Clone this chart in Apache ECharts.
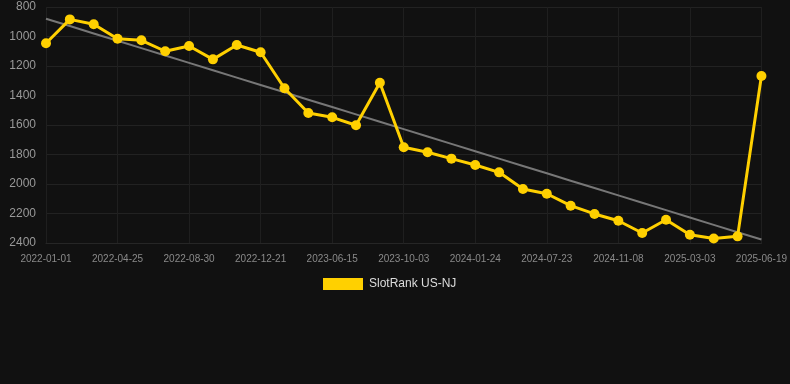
<!DOCTYPE html>
<html><head><meta charset="utf-8">
<script src="https://cdn.jsdelivr.net/npm/echarts@6/dist/echarts.min.js"></script>
<style>html,body{margin:0;padding:0;background:#111111;}#c{width:790px;height:384px;}</style>
</head><body><div id="c"></div>
<script>
var categories = ["2022-01-01","2022-02-08","2022-03-18","2022-04-25","2022-06-05","2022-07-18","2022-08-30","2022-10-08","2022-11-15","2022-12-21","2023-02-14","2023-04-20","2023-06-15","2023-07-20","2023-08-28","2023-10-03","2023-11-12","2023-12-20","2024-01-24","2024-03-20","2024-05-25","2024-07-23","2024-08-30","2024-10-02","2024-11-08","2024-12-15","2025-01-25","2025-03-03","2025-04-08","2025-05-14","2025-06-19"];
var rankValues = [1046,884,917,1015,1026,1100,1064,1155,1058,1107,1351,1519,1548,1602,1313,1751,1785,1828,1871,1921,2034,2066,2147,2203,2249,2332,2242,2344,2369,2355,1268];
var seriesName = "SlotRank US-NJ";

// linear regression trend from the data
var n = rankValues.length, sx=0, sy=0, sxy=0, sxx=0;
for (var i=0;i<n;i++){sx+=i;sy+=rankValues[i];sxy+=i*rankValues[i];sxx+=i*i;}
var slope=(n*sxy-sx*sy)/(n*sxx-sx*sx), icpt=(sy-slope*sx)/n;
var trend = rankValues.map(function(_,i){return +(icpt+slope*i).toFixed(1);});

var chart = echarts.init(document.getElementById('c'));
chart.setOption({
  backgroundColor:'#111111',
  animation:false,
  grid:{left:46,right:28,top:7,bottom:141},
  legend:{top:273,left:318,itemWidth:40,itemHeight:12,
    data:[{name:seriesName,icon:'rect'}],
    textStyle:{color:'#dddddd',fontSize:12,padding:[0,0,0,1]}},
  xAxis:{type:'category',data:categories,boundaryGap:false,
    axisLine:{show:true,lineStyle:{color:'#262626'}},
    axisTick:{show:false},
    axisLabel:{color:'#8a8a8a',fontSize:10,interval:2,margin:11},
    splitLine:{show:true,interval:2,lineStyle:{color:'#1f1f1f'}}},
  yAxis:{type:'value',inverse:true,min:800,max:2400,interval:200,
    axisLine:{show:false},axisTick:{show:false},
    axisLabel:{color:'#999999',fontSize:12,margin:10,formatter:function(v){return String(v);}},
    splitLine:{lineStyle:{color:'#222222'}}},
  series:[
    {name:'trend',type:'line',data:trend,symbol:'none',silent:true,
     lineStyle:{color:'#777777',width:2},z:1},
    {name:seriesName,type:'line',data:rankValues,symbol:'circle',symbolSize:10,
     itemStyle:{color:'#FFD000'},lineStyle:{color:'#FFD000',width:3},z:2}
  ]
});
</script></body></html>
